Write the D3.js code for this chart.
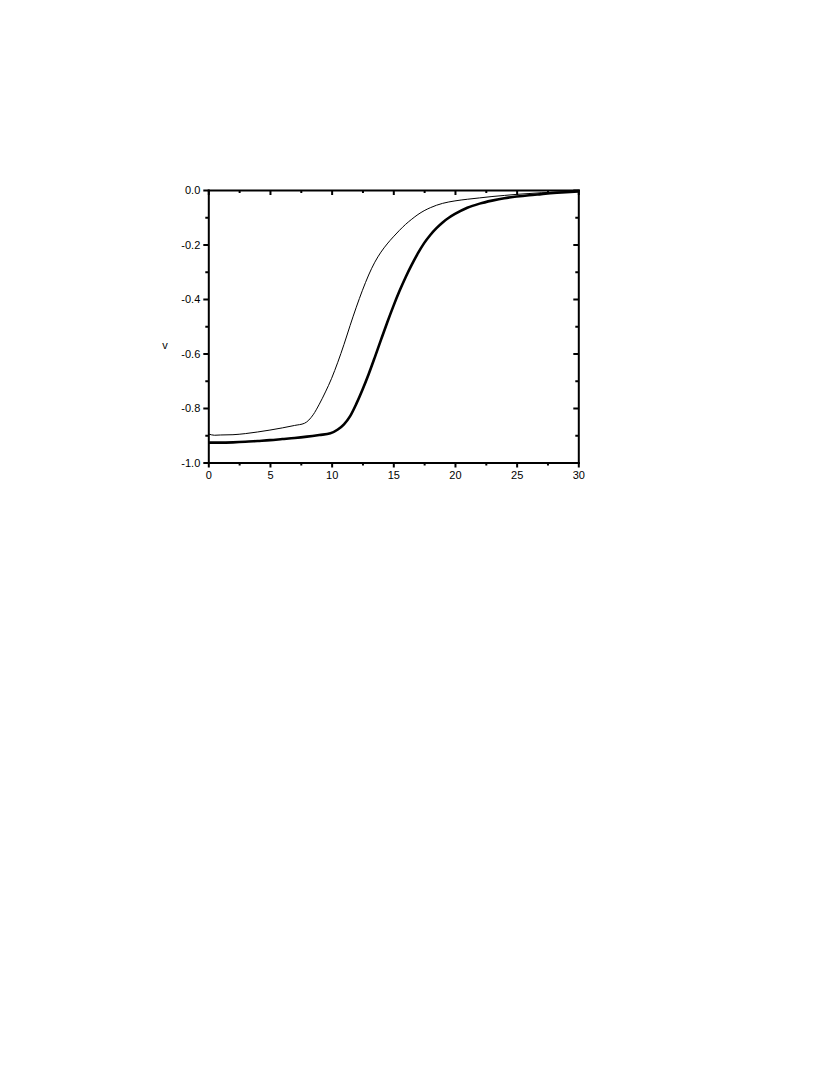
<!DOCTYPE html>
<meta charset="utf-8">
<style>
body { margin: 0; background: #fff; }
svg { display: block; }
.tick text { font-family: "Liberation Sans", Arial, sans-serif; font-size: 11px; fill: #000; }
.axis path { stroke: #000; stroke-width: 2px; }
.axis line { stroke: #000; stroke-width: 2px; }
.curve { fill: none; stroke: #000; stroke-linejoin: round; }
</style>
<body></body>
<script src="https://cdnjs.cloudflare.com/ajax/libs/d3/7.8.5/d3.min.js"></script>
<script>

// thin curve (upper, switches earlier)
var thinX = [0, 0.5, 1, 2, 3, 4, 5, 6, 7, 7.8, 8.5, 9, 9.5, 10, 10.5, 11, 11.5, 12, 12.5, 13, 13.5, 14, 14.5, 15, 15.5, 16, 16.5, 17, 17.5, 18, 18.5, 19, 20, 21, 22, 23, 24, 25, 26, 27, 28, 29, 30];
var thinV = [-0.895, -0.9, -0.899, -0.898, -0.894, -0.888, -0.881, -0.873, -0.864, -0.856, -0.825, -0.786, -0.741, -0.691, -0.632, -0.567, -0.497, -0.43, -0.368, -0.312, -0.265, -0.228, -0.198, -0.172, -0.148, -0.126, -0.107, -0.09, -0.076, -0.065, -0.056, -0.049, -0.04, -0.034, -0.029, -0.024, -0.02, -0.016, -0.013, -0.01, -0.008, -0.006, -0.004];

// thick curve (lower, switches later)
var thickX = [0, 1, 2, 3, 4, 5, 6, 7, 8, 9, 9.9, 10.5, 11, 11.5, 12, 12.5, 13, 13.5, 14, 14.5, 15, 15.5, 16, 16.5, 17, 17.5, 18, 18.5, 19, 19.5, 20, 21, 22, 23, 24, 25, 26, 27, 28, 29, 30];
var thickV = [-0.927, -0.927, -0.926, -0.924, -0.921, -0.918, -0.914, -0.91, -0.905, -0.899, -0.893, -0.879, -0.86, -0.83, -0.785, -0.733, -0.676, -0.614, -0.55, -0.487, -0.427, -0.371, -0.32, -0.274, -0.232, -0.195, -0.165, -0.14, -0.119, -0.102, -0.088, -0.065, -0.05, -0.039, -0.03, -0.024, -0.019, -0.015, -0.011, -0.008, -0.005];

var xMajor = [0, 5, 10, 15, 20, 25, 30];
var xMinor = [2.5, 7.5, 12.5, 17.5, 22.5, 27.5];
var yMajor = [0, -0.2, -0.4, -0.6, -0.8, -1.0];
var yMinor = [-0.1, -0.3, -0.5, -0.7, -0.9];

var plotL = 208.3, plotR = 578.3, plotT = 190, plotB = 462.5;

var svg = d3.select('body').append('svg')
    .attr('width', 830)
    .attr('height', 1075);

var x = d3.scaleLinear().domain([0, 30]).range([plotL, plotR]);
var y = d3.scaleLinear().domain([-1, 0]).range([plotB, plotT]);

var line = d3.line()
    .x(function(d) { return x(d[0]); })
    .y(function(d) { return y(d[1]); })
    .curve(d3.curveMonotoneX);

svg.append('path')
    .attr('class', 'curve')
    .attr('stroke-width', 1)
    .attr('d', line(d3.zip(thinX, thinV)));

svg.append('path')
    .attr('class', 'curve')
    .attr('stroke-width', 2.6)
    .attr('d', line(d3.zip(thickX, thickV)));

function fmt(d) { return d3.format('.1f')(d).replace('\u2212', '-'); }

// bottom: ticks outward, labelled
var gb = svg.append('g').attr('class', 'axis').attr('transform', 'translate(0,' + plotB + ')');
gb.call(d3.axisBottom(x).tickValues(xMajor).tickSize(5).tickSizeOuter(0).tickPadding(4).tickFormat(d3.format('d')));
gb.append('g').call(d3.axisBottom(x).tickValues(xMinor).tickSize(3).tickFormat('')).select('.domain').remove();

// top: ticks inward
var gt = svg.append('g').attr('class', 'axis').attr('transform', 'translate(0,' + plotT + ')');
gt.call(d3.axisBottom(x).tickValues(xMajor).tickSize(5).tickSizeOuter(0).tickFormat(''));
gt.append('g').call(d3.axisBottom(x).tickValues(xMinor).tickSize(3).tickFormat('')).select('.domain').remove();

// left: ticks outward, labelled
var gl = svg.append('g').attr('class', 'axis').attr('transform', 'translate(' + plotL + ',0)');
gl.call(d3.axisLeft(y).tickValues(yMajor).tickSize(5).tickSizeOuter(0).tickPadding(3).tickFormat(fmt));
gl.append('g').call(d3.axisLeft(y).tickValues(yMinor).tickSize(3).tickFormat('')).select('.domain').remove();

// right: ticks inward
var gr = svg.append('g').attr('class', 'axis').attr('transform', 'translate(' + plotR + ',0)');
gr.call(d3.axisLeft(y).tickValues(yMajor).tickSize(5).tickSizeOuter(0).tickFormat(''));
gr.append('g').call(d3.axisLeft(y).tickValues(yMinor).tickSize(3).tickFormat('')).select('.domain').remove();

svg.selectAll('.axis .domain').attr('stroke-linecap', 'square');

svg.append('text')
    .attr('x', 165)
    .attr('y', 349)
    .attr('text-anchor', 'middle')
    .style('font-family', '"Liberation Sans", Arial, sans-serif')
    .style('font-size', '11px')
    .text('v');

</script>
